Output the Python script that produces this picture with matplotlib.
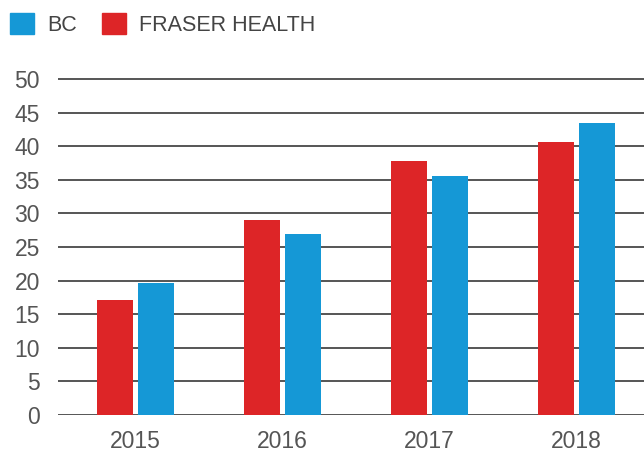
import matplotlib.pyplot as plt
import matplotlib.patches as mpatches
import numpy as np

plt.rcParams["font.family"] = ["Liberation Sans", "DejaVu Sans"]

years = ["2015", "2016", "2017", "2018"]
fraser = [17.1, 29.0, 37.8, 40.7]
bc = [19.7, 26.9, 35.5, 43.4]

RED = "#dd2527"
BLUE = "#1598d6"
TXT = "#555555"

fig = plt.figure(figsize=(6.44, 4.53), dpi=100)
ax = fig.add_axes([58 / 644, 38 / 453, 586 / 644, 338 / 453])

x = np.arange(len(years))
w = 0.245
ax.bar(x - 0.141, fraser, width=w, color=RED, zorder=3)
ax.bar(x + 0.141, bc, width=w, color=BLUE, zorder=3)

ax.set_xlim(-0.526, 3.459)
ax.set_ylim(0, 50.3)
ax.set_yticks(range(0, 51, 5))
ax.set_xticks(x)
ax.set_xticklabels(years)
ax.grid(axis="y", color="#555555", linewidth=1.4, zorder=0)
for s in ax.spines.values():
    s.set_visible(False)
ax.tick_params(length=0, labelsize=16.5, labelcolor=TXT)
ax.tick_params(axis="y", pad=13)
ax.tick_params(axis="x", pad=11)

handles = [mpatches.Patch(color=BLUE, label="BC"),
           mpatches.Patch(color=RED, label="FRASER HEALTH")]
fig.legend(handles=handles, loc="upper left", bbox_to_anchor=(-0.0075, 1.004),
           ncol=2, frameon=False, fontsize=15.5, labelcolor="#444444",
           handlelength=1.1, handleheight=1.1, handletextpad=0.6,
           columnspacing=1.2, borderaxespad=0.3)

fig.savefig("out.png", dpi=100)
